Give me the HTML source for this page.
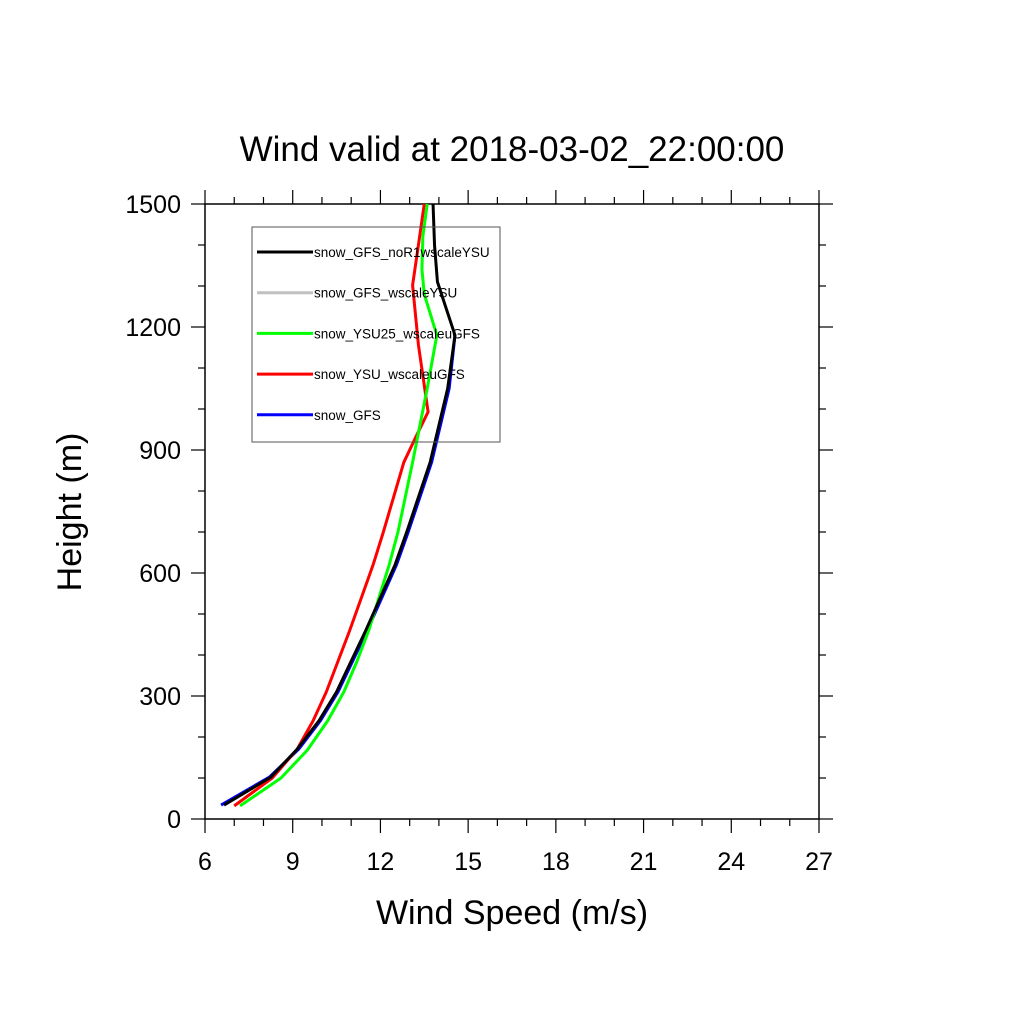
<!DOCTYPE html>
<html><head><meta charset="utf-8"><style>
body{margin:0;background:#fff}
svg text{font-family:"Liberation Sans",sans-serif}
</style></head><body>
<svg id="chart" width="1024" height="1024" viewBox="0 0 1024 1024" xmlns="http://www.w3.org/2000/svg">
<rect width="1024" height="1024" fill="#fff"/>
<text x="512" y="161" font-size="35" text-anchor="middle">Wind valid at 2018-03-02_22:00:00</text>
<g id="axes"></g>
<g id="series"></g>
<g id="legend"></g>
<text x="512" y="924" font-size="34" text-anchor="middle">Wind Speed (m/s)</text>
<text transform="translate(81,512) rotate(-90)" font-size="34" text-anchor="middle">Height (m)</text>
</svg>
<script>
const xTicks=[6,9,12,15,18,21,24,27];
const yTicks=[0,300,600,900,1200,1500];
const seriesNames=["snow_GFS","snow_YSU_wscaleuGFS","snow_YSU25_wscaleuGFS","snow_GFS_wscaleYSU","snow_GFS_noR1wscaleYSU"];
const seriesColors=["#0000ff","#ff0000","#00ff00","#c0c0c0","#000000"];
const heightsBlack=[34,102,170,240,310,385,460,540,620,700,785,870,960,1050,1180,1310,1400,1500];
const speedBlack=[6.65,8.25,9.15,9.9,10.5,11.0,11.5,12.0,12.5,12.9,13.3,13.7,14.0,14.3,14.55,13.95,13.85,13.8];
const heightsBlue=[34,102,170,240,310,385,460,540,620,700,785,870,960,1050,1180];
const speedBlue=[6.55,8.2,9.2,9.95,10.55,11.05,11.55,12.05,12.55,12.95,13.35,13.75,14.05,14.35,14.55];
const heightsGreen=[32,100,168,240,310,385,460,540,620,700,785,870,960,1050,1180,1280,1340,1420,1500];
const speedGreen=[7.2,8.6,9.5,10.2,10.75,11.2,11.6,11.95,12.3,12.6,12.85,13.1,13.35,13.6,13.93,13.5,13.42,13.45,13.6];
const heightsRed=[32,100,170,240,310,385,460,540,620,700,785,870,930,993,1156,1302,1400,1500];
const speedRed=[7.0,8.3,9.15,9.7,10.15,10.55,10.95,11.35,11.75,12.1,12.45,12.8,13.2,13.63,13.3,13.1,13.3,13.5];

const X0=205,X1=819,Y0=819,Y1=204;
function sx(v){return X0+(v-6)/(27-6)*(X1-X0);}
function sy(h){return Y0-(h-0)/(1500-0)*(Y0-Y1);}
const NS="http://www.w3.org/2000/svg";
function mk(tag,parent){const e=document.createElementNS(NS,tag);parent.appendChild(e);return e;}
const axes=document.getElementById('axes');
const frame=mk('rect',axes);


frame.setAttribute('x',X0);frame.setAttribute('y',Y1);frame.setAttribute('width',X1-X0);frame.setAttribute('height',Y0-Y1);
frame.setAttribute('fill','none');frame.setAttribute('stroke','#000');frame.setAttribute('stroke-width','1.5');
function tick(x1,y1,x2,y2){const l=mk('line',axes);l.setAttribute('x1',x1);l.setAttribute('y1',y1);l.setAttribute('x2',x2);l.setAttribute('y2',y2);l.setAttribute('stroke','#000');l.setAttribute('stroke-width','1.2');

}
for(let v=6;v<=27;v++){const L=(v%3===0)?14:7;const x=sx(v);tick(x,Y0,x,Y0+L);tick(x,Y1,x,Y1-L);}
for(let h=0;h<=1500;h+=100){const L=(h%300===0)?14:7;const y=sy(h);tick(X0,y,X0-L,y);tick(X1,y,X1+L,y);}
xTicks.forEach(v=>{const t=mk('text',axes);t.setAttribute('x',sx(v));t.setAttribute('y',Y0+51);t.setAttribute('font-size','25');t.setAttribute('text-anchor','middle');t.textContent=v;

});
yTicks.forEach(h=>{const t=mk('text',axes);t.setAttribute('x',X0-24);t.setAttribute('y',sy(h)+9);t.setAttribute('font-size','25');t.setAttribute('text-anchor','end');t.textContent=h;

});
const sg=document.getElementById('series');
function line(hs,vs,color,name){const p=mk('polyline',sg);p.setAttribute('points',hs.map((h,i)=>sx(vs[i])+','+sy(h)).join(' '));p.setAttribute('fill','none');p.setAttribute('stroke',color);p.setAttribute('stroke-width','3');p.setAttribute('stroke-linejoin','round');

}
line(heightsBlue,speedBlue,seriesColors[0],'series-snow-gfs');
line(heightsRed,speedRed,seriesColors[1],'series-ysu-wscaleugfs');
line(heightsGreen,speedGreen,seriesColors[2],'series-ysu25-wscaleugfs');
line(heightsBlack,speedBlack,seriesColors[4],'series-gfs-nor1wscaleysu');
const lg=document.getElementById('legend');
const box=mk('rect',lg);


box.setAttribute('x',252);box.setAttribute('y',227);box.setAttribute('width',248);box.setAttribute('height',215);box.setAttribute('fill','none');box.setAttribute('stroke','#555');box.setAttribute('stroke-width','1');
const order=[4,3,2,1,0];
order.forEach((si,k)=>{const y=252+k*40.7;const l=mk('line',lg);l.setAttribute('x1',257);l.setAttribute('x2',313);l.setAttribute('y1',y);l.setAttribute('y2',y);l.setAttribute('stroke',seriesColors[si]);l.setAttribute('stroke-width','3');


const t=mk('text',lg);t.setAttribute('x',314);t.setAttribute('y',y+5);t.setAttribute('font-size','13.5');t.textContent=seriesNames[si];

});
</script>
</body></html>
